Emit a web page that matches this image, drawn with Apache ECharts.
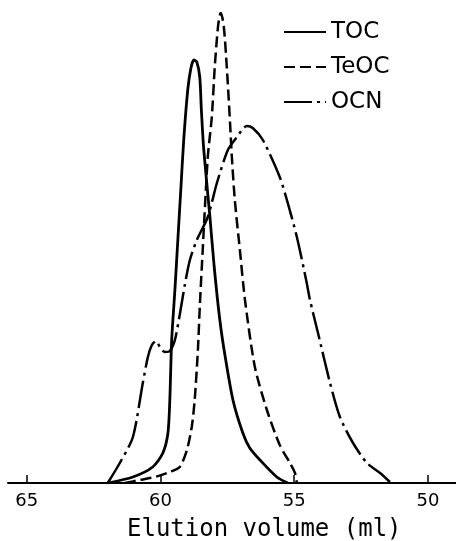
<!DOCTYPE html>
<html>
<head>
<meta charset="utf-8">
<script src="https://cdn.jsdelivr.net/npm/echarts@6/dist/echarts.min.js"></script>
<style>
  html, body { margin: 0; padding: 0; background: #fff; }
  #chart { width: 456px; height: 541px; }
</style>
</head>
<body>
<div id="chart"></div>
<script>
// elution volume (ml) vs detector response (arbitrary units)
const tocData = [
  [61.97, 0], [61.03, 6], [60.29, 16], [59.91, 30], [59.72, 50], [59.65, 83],
  [59.58, 143], [59.46, 193], [59.35, 243], [59.24, 293], [59.13, 343],
  [58.98, 393], [58.86, 415], [58.75, 423], [58.64, 421], [58.53, 406],
  [58.47, 373], [58.38, 333], [58.15, 266], [57.99, 216], [57.78, 163],
  [57.59, 128], [57.29, 83], [56.92, 50], [56.66, 35], [56.28, 23],
  [55.65, 6], [55.24, 0]
]
const teocData = [
  [61.33, 0], [60.77, 3], [60.21, 6], [59.65, 11], [59.28, 16], [59.01, 33],
  [58.83, 56], [58.72, 83], [58.60, 133], [58.53, 176], [58.42, 233],
  [58.23, 326], [58.08, 366], [57.97, 416], [57.85, 456], [57.78, 468],
  [57.74, 470], [57.63, 456], [57.52, 416], [57.41, 366], [57.33, 326],
  [57.22, 283], [57.03, 233], [56.84, 183], [56.47, 116], [56.02, 73],
  [55.54, 38], [55.16, 20], [54.97, 10], [54.90, 0]
]
const ocnData = [
  [61.97, 0], [61.52, 20], [61.03, 46], [60.66, 100], [60.47, 126],
  [60.32, 138], [60.17, 142], [60.02, 136], [59.84, 131], [59.65, 132],
  [59.46, 143], [59.28, 168], [59.09, 198], [58.90, 223], [58.64, 243],
  [58.23, 266], [57.89, 300], [57.48, 333], [57.14, 346], [56.77, 357],
  [56.55, 355], [56.17, 343], [55.54, 306], [55.24, 280], [54.90, 246],
  [54.53, 200], [54.41, 183], [54.11, 150], [53.66, 100], [53.29, 66],
  [52.80, 40], [52.28, 20], [51.79, 10], [51.42, 1]
]
const tickValues = [50, 55, 60, 65]
const seriesNames = ['TOC', 'TeOC', 'OCN']

const myChart = echarts.init(document.getElementById('chart'))

function makeSeries(name, data, type, width) {
  return {
    name: name,
    type: 'line',
    data: data,
    smooth: 0.25,
    symbol: 'none',
    lineStyle: {
      color: '#000',
      width: width,
      type: type
    },
    itemStyle: { color: '#000' }
  }
}

const options = {
  animation: false,
  backgroundColor: '#fff',
  grid: {
    left: 8,
    right: 0,
    top: 0,
    bottom: 58
  },
  title: {
    text: 'Elution volume (ml)',
    left: 122,
    top: 513,
    textStyle: {
      fontFamily: 'DejaVu Sans Mono',
      fontSize: 24,
      fontWeight: 'normal',
      color: '#000'
    }
  },
  legend: {
    data: seriesNames,
    orient: 'vertical',
    left: 278,
    top: 15,
    itemWidth: 42,
    itemHeight: 14,
    itemGap: 11,
    itemStyle: { opacity: 0 },
    textStyle: {
      fontFamily: 'DejaVu Sans',
      fontSize: 23,
      color: '#000',
      lineHeight: 24
    }
  },
  xAxis: {
    type: 'value',
    inverse: true,
    min: 48.95,
    max: 65.7,
    splitLine: { show: false },
    axisLine: { lineStyle: { color: '#000', width: 2 } },
    axisTick: {
      inside: true,
      length: 8,
      customValues: tickValues,
      lineStyle: { color: '#000', width: 1.5 }
    },
    axisLabel: {
      customValues: tickValues,
      margin: 9,
      fontFamily: 'DejaVu Sans',
      fontSize: 18,
      color: '#000'
    }
  },
  yAxis: {
    type: 'value',
    min: 0,
    max: 483,
    show: false
  },
  series: [
    makeSeries('TOC', tocData, 'solid', 2.8),
    makeSeries('TeOC', teocData, [11, 5], 2.5),
    makeSeries('OCN', ocnData, [28, 5, 3, 5], 2.5)
  ]
}
myChart.setOption(options)
window.addEventListener('resize', () => {
  myChart.resize()
})
</script>
</body>
</html>
